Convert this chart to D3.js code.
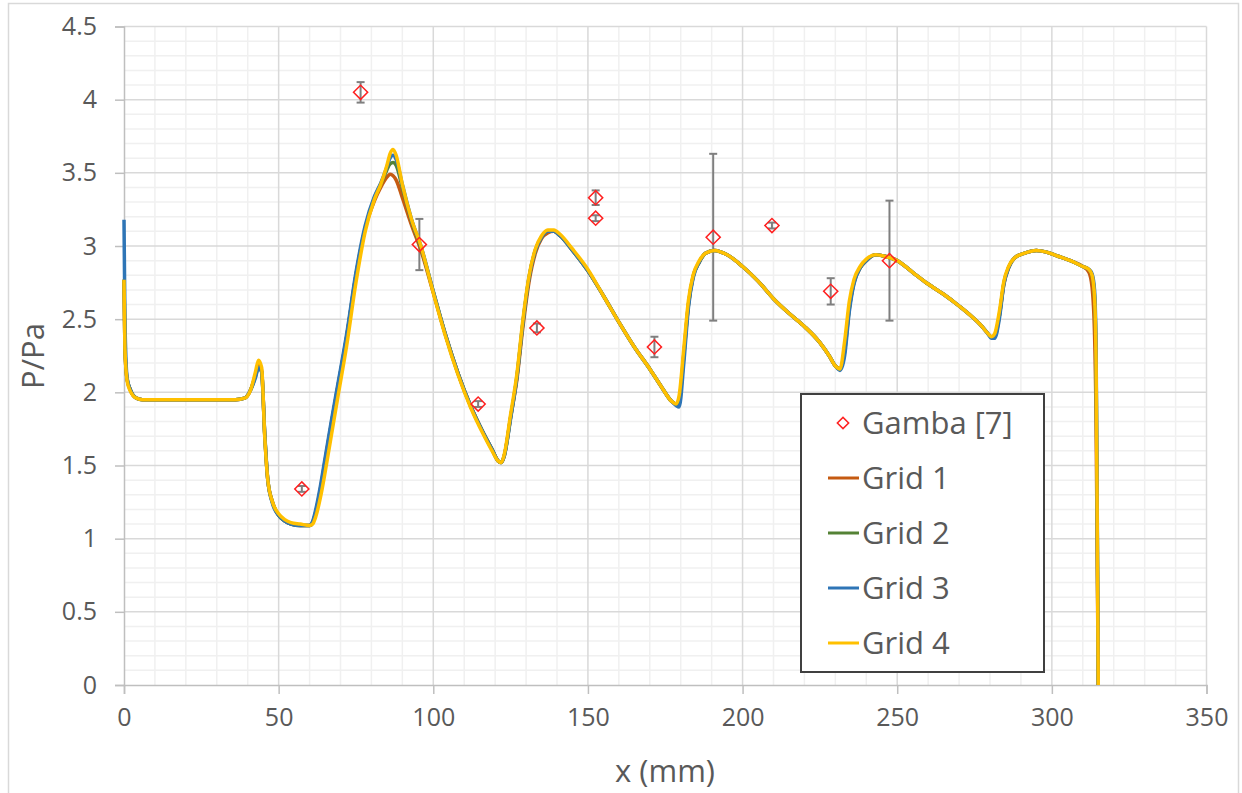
<!DOCTYPE html>
<html>
<head>
<meta charset="utf-8">
<script src="https://cdn.jsdelivr.net/npm/d3@7"></script>
<style>
  body { margin: 0; background: #fff; }
  svg { display: block; font-family: "Open Sans", sans-serif; }
</style>
</head>
<body>
<script>
// x positions (mm) shared by the four simulated grids
const xs = [
  0, 0.3, 1, 2, 4, 6, 10, 20, 30, 36,
  39, 41, 42.5, 43.5, 44.5, 45.5, 46.5, 48, 50, 52,
  54, 57, 60, 61, 62, 63.5, 65, 67, 69, 72,
  75, 78, 81, 83, 85, 86, 87, 88, 90, 93,
  96, 100, 104, 108, 112, 116, 119, 121, 122, 123,
  125, 127, 129, 131, 133, 135, 137, 139, 141, 145,
  150, 155, 160, 165, 170, 174, 177, 178.5, 179.5, 181,
  182.5, 184, 186, 188, 191, 195, 200, 205, 210, 215,
  220, 225, 228, 230, 231.5, 233, 234.5, 236, 238, 240,
  243, 246, 250, 255, 260, 265, 270, 274, 277, 279,
  280.5, 281.5, 283, 284.5, 286, 288, 291, 295, 298, 302,
  306, 310, 312, 313, 313.8, 314.3, 314.7, 315
];

const grid1 = [
  2.77, 2.30, 2.09, 2.02, 1.96, 1.95, 1.95, 1.95, 1.95, 1.95,
  1.96, 2.02, 2.12, 2.19, 2.15, 1.71, 1.40, 1.25, 1.16, 1.12,
  1.10, 1.09, 1.09, 1.11, 1.18, 1.34, 1.53, 1.78, 2.02, 2.38,
  2.80, 3.12, 3.31, 3.40, 3.47, 3.49, 3.48, 3.45, 3.33, 3.14,
  2.97, 2.68, 2.39, 2.13, 1.91, 1.73, 1.61, 1.53, 1.52, 1.57,
  1.83, 2.08, 2.45, 2.76, 2.95, 3.05, 3.09, 3.10, 3.07, 2.97,
  2.83, 2.66, 2.48, 2.31, 2.16, 2.03, 1.94, 1.92, 1.95, 2.26,
  2.60, 2.79, 2.89, 2.95, 2.97, 2.94, 2.86, 2.76, 2.64, 2.54,
  2.45, 2.34, 2.25, 2.18, 2.16, 2.30, 2.58, 2.75, 2.85, 2.90,
  2.94, 2.93, 2.90, 2.82, 2.74, 2.67, 2.59, 2.52, 2.46, 2.41,
  2.38, 2.39, 2.52, 2.74, 2.85, 2.92, 2.95, 2.97, 2.96, 2.93,
  2.90, 2.86, 2.82, 2.72, 2.40, 1.80, 0.80, 0
];

const grid2 = [
  2.77, 2.30, 2.09, 2.02, 1.96, 1.95, 1.95, 1.95, 1.95, 1.95,
  1.96, 2.02, 2.11, 2.17, 2.14, 1.71, 1.40, 1.25, 1.16, 1.12,
  1.10, 1.09, 1.09, 1.11, 1.18, 1.33, 1.52, 1.78, 2.02, 2.38,
  2.80, 3.12, 3.33, 3.42, 3.52, 3.56, 3.57, 3.55, 3.40, 3.17,
  2.99, 2.69, 2.39, 2.13, 1.91, 1.73, 1.61, 1.53, 1.52, 1.57,
  1.83, 2.10, 2.48, 2.79, 2.97, 3.06, 3.10, 3.10, 3.07, 2.97,
  2.83, 2.66, 2.48, 2.31, 2.16, 2.03, 1.94, 1.92, 1.94, 2.25,
  2.60, 2.79, 2.89, 2.95, 2.97, 2.94, 2.86, 2.76, 2.64, 2.54,
  2.45, 2.34, 2.25, 2.18, 2.16, 2.28, 2.57, 2.75, 2.85, 2.90,
  2.94, 2.93, 2.90, 2.82, 2.74, 2.67, 2.59, 2.52, 2.46, 2.41,
  2.38, 2.38, 2.52, 2.75, 2.85, 2.92, 2.95, 2.97, 2.96, 2.93,
  2.90, 2.86, 2.84, 2.80, 2.65, 2.20, 1.00, 0
];

const grid3 = [
  3.18, 2.50, 2.10, 2.02, 1.96, 1.95, 1.95, 1.95, 1.95, 1.95,
  1.96, 2.02, 2.10, 2.17, 2.14, 1.72, 1.40, 1.24, 1.16, 1.12,
  1.10, 1.09, 1.09, 1.12, 1.20, 1.36, 1.55, 1.80, 2.04, 2.40,
  2.82, 3.14, 3.34, 3.43, 3.54, 3.60, 3.62, 3.59, 3.42, 3.18,
  3.00, 2.69, 2.39, 2.13, 1.91, 1.73, 1.61, 1.53, 1.52, 1.57,
  1.82, 2.10, 2.48, 2.79, 2.97, 3.06, 3.10, 3.10, 3.07, 2.97,
  2.83, 2.66, 2.48, 2.31, 2.16, 2.03, 1.94, 1.91, 1.90, 2.20,
  2.58, 2.78, 2.89, 2.95, 2.97, 2.94, 2.86, 2.76, 2.64, 2.54,
  2.45, 2.34, 2.25, 2.18, 2.15, 2.25, 2.55, 2.74, 2.85, 2.90,
  2.94, 2.93, 2.90, 2.82, 2.74, 2.67, 2.59, 2.52, 2.46, 2.41,
  2.37, 2.37, 2.50, 2.74, 2.85, 2.92, 2.95, 2.97, 2.96, 2.93,
  2.90, 2.86, 2.84, 2.81, 2.70, 2.30, 1.10, 0
];

const grid4 = [
  2.77, 2.30, 2.08, 2.01, 1.96, 1.95, 1.95, 1.95, 1.95, 1.95,
  1.96, 2.02, 2.14, 2.22, 2.17, 1.70, 1.40, 1.25, 1.17, 1.13,
  1.11, 1.10, 1.09, 1.10, 1.15, 1.28, 1.45, 1.70, 1.95, 2.32,
  2.75, 3.10, 3.32, 3.42, 3.55, 3.63, 3.66, 3.62, 3.42, 3.18,
  3.00, 2.68, 2.38, 2.12, 1.90, 1.72, 1.60, 1.53, 1.52, 1.58,
  1.85, 2.12, 2.50, 2.80, 2.98, 3.07, 3.11, 3.11, 3.08, 2.98,
  2.84, 2.66, 2.48, 2.31, 2.16, 2.03, 1.94, 1.92, 1.98, 2.30,
  2.63, 2.80, 2.90, 2.95, 2.97, 2.94, 2.86, 2.76, 2.64, 2.54,
  2.45, 2.34, 2.25, 2.18, 2.16, 2.35, 2.62, 2.77, 2.86, 2.91,
  2.94, 2.93, 2.90, 2.82, 2.74, 2.67, 2.59, 2.52, 2.46, 2.41,
  2.38, 2.40, 2.55, 2.76, 2.86, 2.92, 2.95, 2.97, 2.96, 2.93,
  2.90, 2.86, 2.84, 2.80, 2.65, 2.20, 1.00, 0
];

// experimental points (Gamba [7]) with symmetric error bars
const gambaX = [57.5, 76.5, 95.5, 114.5, 133.5, 152.5, 152.5, 171.5, 190.5, 209.5, 228.5, 247.5];
const gambaY = [1.34, 4.05, 3.01, 1.92, 2.44, 3.33, 3.19, 2.31, 3.06, 3.14, 2.69, 2.90];
const gambaErr = [0.02, 0.07, 0.175, 0.02, 0.03, 0.05, 0.02, 0.07, 0.57, 0.02, 0.09, 0.41];

const seriesNames = ["Grid 1", "Grid 2", "Grid 3", "Grid 4"];
const seriesColors = ["#c55a11", "#548235", "#2e75b6", "#ffc000"];
const xTicks = [0, 50, 100, 150, 200, 250, 300, 350];
const yTicks = [0, 0.5, 1, 1.5, 2, 2.5, 3, 3.5, 4, 4.5];

const W = 1242, H = 793;
const svg = d3.select("body").append("svg").attr("width", W).attr("height", H);

// outer chart frame
svg.append("rect")
  .attr("x", 8.5).attr("y", 3.5).attr("width", 1230).attr("height", 800)
  .attr("fill", "#fff").attr("stroke", "#d9d9d9").attr("stroke-width", 1.5);

const x = d3.scaleLinear().domain([0, 350]).range([124, 1206.5]);
const y = d3.scaleLinear().domain([0, 4.5]).range([685, 26.5]);

// minor grid
const g = svg.append("g");
g.selectAll(".mx").data(d3.range(0, 351, 10).filter(v => v % 50 !== 0)).join("line")
  .attr("x1", d => x(d)).attr("x2", d => x(d)).attr("y1", y(0)).attr("y2", y(4.5))
  .attr("stroke", "#f0f0f0").attr("stroke-width", 1.5);
g.selectAll(".my").data(d3.range(0, 46, 1).filter(v => v % 5 !== 0).map(v => v / 10)).join("line")
  .attr("y1", d => y(d)).attr("y2", d => y(d)).attr("x1", x(0)).attr("x2", x(350))
  .attr("stroke", "#f0f0f0").attr("stroke-width", 1.5);

// major grid
g.selectAll(".Mx").data(xTicks.slice(1)).join("line")
  .attr("x1", d => x(d)).attr("x2", d => x(d)).attr("y1", y(0)).attr("y2", y(4.5))
  .attr("stroke", "#d9d9d9").attr("stroke-width", 1.5);
g.selectAll(".My").data(yTicks.slice(1)).join("line")
  .attr("y1", d => y(d)).attr("y2", d => y(d)).attr("x1", x(0)).attr("x2", x(350))
  .attr("stroke", "#d9d9d9").attr("stroke-width", 1.5);

// axes
const xAxis = svg.append("g").attr("transform", `translate(0,${y(0)})`)
  .call(d3.axisBottom(x).tickValues(xTicks).tickSize(9).tickPadding(14));
const yAxis = svg.append("g").attr("transform", `translate(${x(0)},0)`)
  .call(d3.axisLeft(y).tickValues(yTicks).tickSize(9).tickPadding(18).tickFormat(d3.format("")));
[xAxis, yAxis].forEach(a => {
  a.select(".domain").attr("stroke", "#bfbfbf").attr("stroke-width", 1.5);
  a.selectAll(".tick line").attr("stroke", "#bfbfbf").attr("stroke-width", 1.5);
  a.selectAll(".tick text").attr("fill", "#595959").style("font-size", "25px")
    .style("font-family", "'Open Sans', sans-serif");
});

// error bars
const eb = svg.append("g").attr("stroke", "#7f7f7f").attr("stroke-width", 2);
gambaX.forEach((xv, i) => {
  const lo = y(gambaY[i] - gambaErr[i]), hi = y(gambaY[i] + gambaErr[i]), cx = x(xv);
  eb.append("line").attr("x1", cx).attr("x2", cx).attr("y1", lo).attr("y2", hi);
  eb.append("line").attr("x1", cx - 4).attr("x2", cx + 4).attr("y1", lo).attr("y2", lo);
  eb.append("line").attr("x1", cx - 4).attr("x2", cx + 4).attr("y1", hi).attr("y2", hi);
});

// simulated curves
const line = d3.line().x(d => x(d[0])).y(d => y(d[1])).curve(d3.curveMonotoneX);
[grid1, grid2, grid3, grid4].forEach((ys, i) => {
  svg.append("path")
    .attr("d", line(xs.map((xv, j) => [xv, ys[j]])))
    .attr("fill", "none").attr("stroke", seriesColors[i])
    .attr("stroke-width", 3.5).attr("stroke-linejoin", "round");
});

// diamond markers
const diamond = d3.symbol(d3.symbolSquare, 100);
svg.append("g").selectAll("path").data(gambaX.map((xv, i) => [xv, gambaY[i]])).join("path")
  .attr("d", diamond)
  .attr("transform", d => `translate(${x(d[0])},${y(d[1])}) rotate(45)`)
  .attr("fill", "none").attr("stroke", "#ff2020").attr("stroke-width", 1.5);

// axis titles
svg.append("text").attr("x", 665).attr("y", 782).attr("text-anchor", "middle")
  .attr("fill", "#595959").style("font-size", "31px").text("x (mm)");
svg.append("text").attr("transform", "translate(44,356) rotate(-90)").attr("text-anchor", "middle")
  .attr("fill", "#595959").style("font-size", "31px").text("P/Pa");

// legend
const lg = svg.append("g");
lg.append("rect").attr("x", 801).attr("y", 394).attr("width", 243).attr("height", 278)
  .attr("fill", "#fff").attr("stroke", "#404040").attr("stroke-width", 2);
const legRows = [423, 478, 533, 588, 643];
lg.append("path").attr("d", d3.symbol(d3.symbolSquare, 64))
  .attr("transform", `translate(843,${legRows[0]}) rotate(45)`)
  .attr("fill", "none").attr("stroke", "#ff2020").attr("stroke-width", 1.5);
lg.append("text").attr("x", 862).attr("y", legRows[0]).attr("dy", "0.36em")
  .attr("fill", "#595959").style("font-size", "31px").text("Gamba [7]");
seriesNames.forEach((name, i) => {
  const ry = legRows[i + 1];
  lg.append("line").attr("x1", 828).attr("x2", 859).attr("y1", ry).attr("y2", ry)
    .attr("stroke", seriesColors[i]).attr("stroke-width", 3);
  lg.append("text").attr("x", 862).attr("y", ry).attr("dy", "0.36em")
    .attr("fill", "#595959").style("font-size", "31px").text(name);
});
</script>
</body>
</html>
